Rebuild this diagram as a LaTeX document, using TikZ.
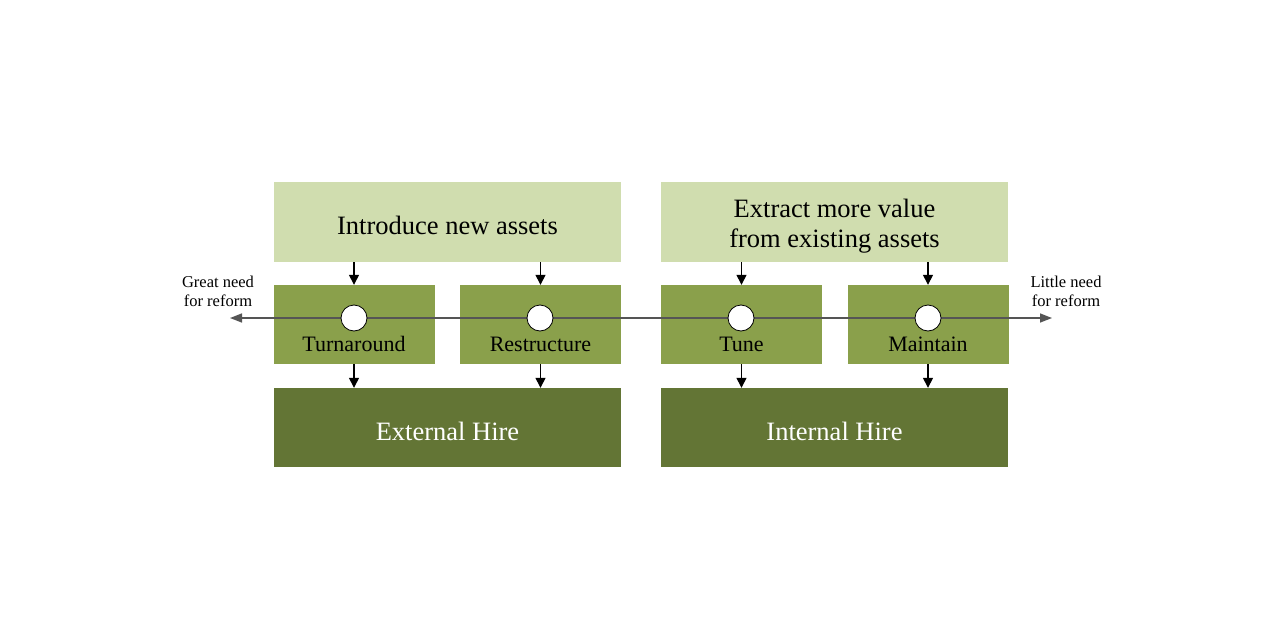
\documentclass[tikz,border=0pt]{standalone}
\usepackage{fontspec}
\setmainfont{Liberation Serif}
\usetikzlibrary{arrows.meta}
\definecolor{lightg}{HTML}{D0DDAF}
\definecolor{midg}{HTML}{8AA04B}
\definecolor{darkg}{HTML}{637535}
\definecolor{axisg}{HTML}{555555}
\tikzset{
  topbox/.style={fill=lightg, draw=none, minimum width=347pt, minimum height=80pt, inner sep=0pt, align=center, font=\fontsize{26.5}{30}\selectfont},
  midbox/.style={fill=midg, draw=none, minimum width=161pt, minimum height=79pt, inner sep=0pt},
  midlabel/.style={font=\fontsize{22}{26}\selectfont, inner sep=0pt},
  botbox/.style={fill=darkg, draw=none, minimum width=347pt, minimum height=79pt, inner sep=0pt, text=white, font=\fontsize{26.5}{30}\selectfont},
  dot/.style={circle, fill=white, draw=black, line width=0.8pt, minimum size=26pt, inner sep=0pt},
  flow/.style={-{Triangle[length=10pt,width=10pt]}, line width=1.4pt, black},
  axis/.style={{Triangle[length=12pt,width=9pt]}-{Triangle[length=12pt,width=9pt]}, line width=1.5pt, axisg},
  side/.style={align=center, font=\fontsize{16.5}{19}\selectfont, inner sep=0pt}
}
\begin{document}
\begin{tikzpicture}[x=1pt,y=-1pt]
\useasboundingbox[fill=white] (0,0) rectangle (1280,640);
% top boxes
\node[topbox] (intro) at (447.5,222) {};
\node[topbox] (extract) at (834.5,222) {};
\node[topbox, fill=none] (introtxt) at (447.5,225) {Introduce new assets};
\node[topbox, fill=none] (extracttxt) at (834.5,226) {Extract more value\\from existing assets};
% middle boxes
\node[midbox] (turn) at (354,324.5) {};
\node[midbox] (restr) at (540.5,324.5) {};
\node[midbox] (tune) at (741.5,324.5) {};
\node[midbox] (maint) at (928,324.5) {};
\node[midlabel] (turnl) at (354,344) {Turnaround};
\node[midlabel] (restrl) at (540.5,344) {Restructure};
\node[midlabel] (tunel) at (741.5,344) {Tune};
\node[midlabel] (maintl) at (928,344) {Maintain};
% bottom boxes
\node[botbox] (ext) at (447.5,427.5) {};
\node[botbox] (int) at (834.5,427.5) {};
\node[botbox, fill=none] (extl) at (447.5,431) {External Hire};
\node[botbox, fill=none] (intl) at (834.5,431) {Internal Hire};
% axis
\coordinate (L) at (230,318);
\coordinate (R) at (1052,318);
\draw[axis] (L) -- (R);
\node[dot] (c1) at (354,318) {};
\node[dot] (c2) at (540,318) {};
\node[dot] (c3) at (741,318) {};
\node[dot] (c4) at (928,318) {};
% side labels
\node[side] (great) at (218,291) {Great need\\for reform};
\node[side] (little) at (1066,291) {Little need\\for reform};
% flow arrows
\draw[flow] (intro.south -| turn.north) -- (turn.north);
\draw[flow] (intro.south -| restr.north) -- (restr.north);
\draw[flow] (extract.south -| tune.north) -- (tune.north);
\draw[flow] (extract.south -| maint.north) -- (maint.north);
\draw[flow] (turn.south) -- (turn.south |- ext.north);
\draw[flow] (restr.south) -- (restr.south |- ext.north);
\draw[flow] (tune.south) -- (tune.south |- int.north);
\draw[flow] (maint.south) -- (maint.south |- int.north);
\end{tikzpicture}
\end{document}
